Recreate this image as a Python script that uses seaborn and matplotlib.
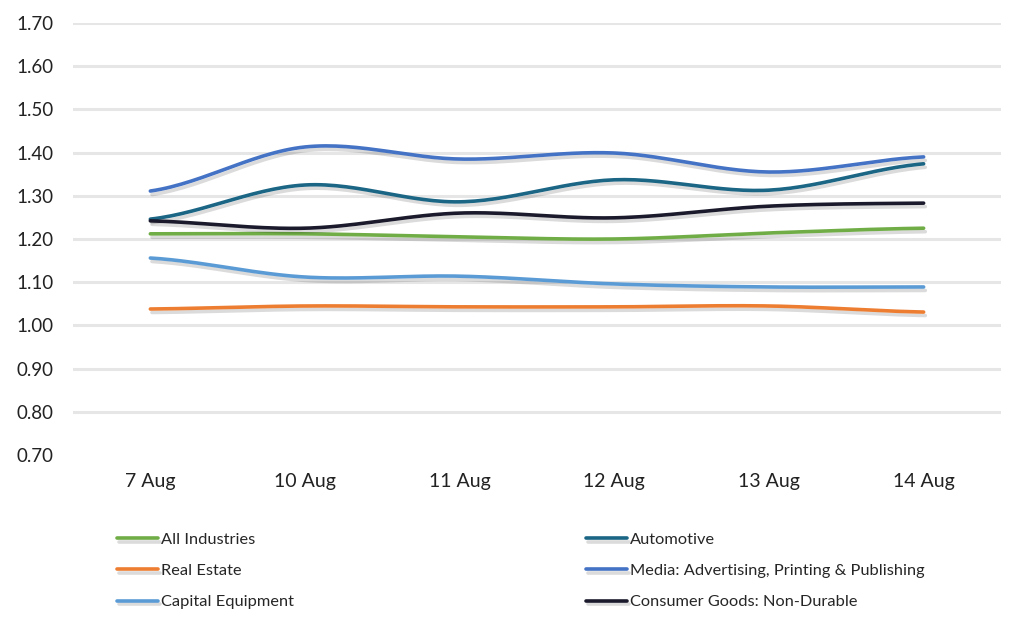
import numpy as np
import pandas as pd
import matplotlib
matplotlib.use("Agg")
import matplotlib.pyplot as plt
import matplotlib.patheffects as pe
import seaborn as sns

# chart data
dates = ["7 Aug", "10 Aug", "11 Aug", "12 Aug", "13 Aug", "14 Aug"]
all_industries = [1.212, 1.212, 1.205, 1.200, 1.214, 1.225]
real_estate = [1.038, 1.045, 1.043, 1.043, 1.045, 1.031]
capital_equipment = [1.156, 1.112, 1.114, 1.096, 1.089, 1.089]
automotive = [1.246, 1.325, 1.286, 1.337, 1.313, 1.374]
media = [1.311, 1.413, 1.385, 1.399, 1.355, 1.390]
consumer_goods = [1.242, 1.225, 1.260, 1.249, 1.276, 1.283]

series = {
    "All Industries": all_industries,
    "Real Estate": real_estate,
    "Capital Equipment": capital_equipment,
    "Automotive": automotive,
    "Media: Advertising, Printing & Publishing": media,
    "Consumer Goods: Non-Durable": consumer_goods,
}
colors = {
    "All Industries": "#70AD47",
    "Real Estate": "#ED7D31",
    "Capital Equipment": "#5B9BD5",
    "Automotive": "#1B6585",
    "Media: Advertising, Printing & Publishing": "#4472C4",
    "Consumer Goods: Non-Durable": "#1A1A2C",
}


def smooth(y, n=30):
    """Catmull-Rom curve through the points, like Excel's smoothed line."""
    y = np.asarray(y, dtype=float)
    x = np.arange(len(y), dtype=float)
    xs, ys = [], []
    for i in range(len(y) - 1):
        p0 = y[i - 1] if i > 0 else y[i]
        p3 = y[i + 2] if i + 2 < len(y) else y[i + 1]
        p1, p2 = y[i], y[i + 1]
        t = np.linspace(0, 1, n, endpoint=(i == len(y) - 2))
        ys.append(0.5 * (2 * p1 + (-p0 + p2) * t
                         + (2 * p0 - 5 * p1 + 4 * p2 - p3) * t ** 2
                         + (-p0 + 3 * p1 - 3 * p2 + p3) * t ** 3))
        xs.append(x[i] + t)
    return np.concatenate(xs), np.concatenate(ys)


rows = []
for name, vals in series.items():
    xs, ys = smooth(vals)
    rows.append(pd.DataFrame({"x": xs, "value": ys, "series": name}))
df = pd.concat(rows, ignore_index=True)

sns.set_style("white")
plt.rcParams["font.family"] = ["Lato", "DejaVu Sans"]

fig = plt.figure(figsize=(10.24, 6.2), dpi=100)
ax = fig.add_axes([0.0713, 0.266, 0.9062, 0.697])

sns.lineplot(data=df, x="x", y="value", hue="series", palette=colors,
             hue_order=list(series.keys()), linewidth=2.6, ax=ax,
             sort=False, estimator=None, legend=True)

for line in ax.get_lines():
    line.set_solid_capstyle("round")
    line.set_path_effects([pe.SimpleLineShadow(offset=(1.2, -2.5), shadow_color="#000000", alpha=0.14),
                           pe.Normal()])

ax.set_xlim(-0.5, len(dates) - 0.5)
ax.set_ylim(0.70, 1.70)
yt = np.arange(0.70, 1.701, 0.10)
ax.set_yticks(yt)
ax.set_yticklabels([f"{v:.2f}" for v in yt])
ax.set_xticks(range(len(dates)))
ax.set_xticklabels(dates)
ax.tick_params(axis="y", length=0, pad=14, labelsize=13.5, labelcolor="#222222")
ax.tick_params(axis="x", length=0, pad=13, labelsize=14, labelcolor="#222222")
ax.set_xlabel("")
ax.set_ylabel("")

for v in yt[1:]:
    ax.axhline(v, color="#E6E6E6", linewidth=2.2, zorder=0)
for s in ax.spines.values():
    s.set_visible(False)

handles, labels = ax.get_legend_handles_labels()
ax.get_legend().remove()
fig.legend(handles, labels, ncol=2, loc="upper left",
           bbox_to_anchor=(0.108, 0.152), frameon=False,
           prop={"family": "Lato", "size": 11.8},
           handlelength=2.5, handletextpad=0.2, labelspacing=1.03,
           columnspacing=17.8, borderaxespad=0)

fig.savefig("out.png", dpi=100, facecolor="white")
